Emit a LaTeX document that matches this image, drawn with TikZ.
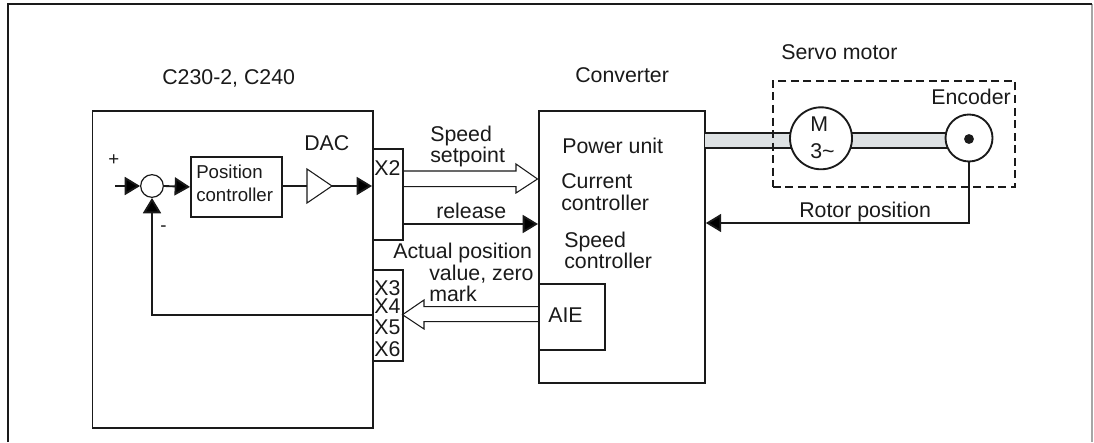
\documentclass[tikz,border=0pt]{standalone}
\usepackage{fontspec}
\setmainfont{Liberation Sans}
\usetikzlibrary{arrows.meta,calc}
\definecolor{ink}{HTML}{1A1A1A}
\definecolor{band}{HTML}{DDE1E3}
\tikzset{
 x=0.75pt,y=-0.75pt,
 line/.style={draw=ink,line width=1.4pt},
 thin line/.style={draw=ink,line width=0.8pt},
 lbl/.style={anchor=base west,inner sep=0pt,text=ink,font=\fontsize{16}{18}\selectfont},
 small lbl/.style={anchor=base west,inner sep=0pt,text=ink,font=\fontsize{14}{16}\selectfont},
 solid tip/.style={-{Triangle[length=11.5pt,width=13.5pt,fill=black]}},
 hollow/.style={draw=ink,line width=0.8pt,fill=white,line join=miter},
}
\newcommand{\pxbox}[5]{\node[draw=ink,line width=1.4pt,inner sep=0pt,rectangle,minimum width=#3*0.75pt-#1*0.75pt,minimum height=#4*0.75pt-#2*0.75pt,anchor=north west] (#5) at (#1,#2) {};}
\begin{document}
\begin{tikzpicture}
\useasboundingbox (0,0) rectangle (1094,442);
\fill[white] (0,0) rectangle (1094,442);
% outer frame
\coordinate (fbl) at (8,442);
\coordinate (ftl) at (8,4);
\coordinate (ftr) at (1092,4);
\coordinate (fbr) at (1092,442);
\draw[draw=black!35,line width=1.2pt] (ftr) -- (fbr);
\draw[draw=ink,line width=1.6pt] (fbl) -- (ftl) -- (ftr);
% hollow arrows
\draw[hollow] (402,171) -- (516,171) -- (516,164) -- (537.5,179) -- (516,193) -- (516,186.7) -- (402,186.7);
\draw[hollow] (538,306.7) -- (424,306.7) -- (424,300) -- (402.5,314.7) -- (424,329) -- (424,321.7) -- (538,321.7);
% boxes
\pxbox{91.5}{110}{372}{427}{ctrl}
\pxbox{372}{148}{402}{239}{xtwo}
\pxbox{372}{269}{402}{360}{xthree}
\pxbox{190}{156}{281}{216}{pos}
\pxbox{538}{110.5}{704}{382}{conv}
\pxbox{538}{283}{604}{349}{aie}
% summing junction
\node[draw=ink,line width=0.9pt,circle,inner sep=0pt,minimum size=17pt] (sum) at (152,186) {};
\coordinate (in) at (115,186);
\draw[line,solid tip] (in) -- (sum.west);
\draw[line,solid tip] (sum.east) -- (pos.west);
% DAC triangle
\coordinate (ta) at (307,169);
\coordinate (tb) at (307,203);
\coordinate (tc) at (332,186);
\draw[thin line] (ta) -- (tb) -- (tc) -- cycle;
\coordinate (dacin) at (307,186);
\draw[line] (pos.east |- dacin) -- (dacin);
\draw[line,solid tip] (tc) -- (tc -| xtwo.west);
% feedback
\coordinate (fb) at (372,314.7);
\coordinate (fbc) at (152,314.7);
\draw[line,solid tip] (fb) -- (fbc) -- (sum.south);
% release
\coordinate (rel) at (402,224);
\draw[line,solid tip] (rel) -- (rel -| conv.west);
% motor
\path[fill=band] (704.7,133) rectangle (795,148);
\path[fill=band] (848,133) rectangle (950,148);
\draw[thin line] (704.7,133) -- (795,133) (704.7,148) -- (795,148);
\draw[thin line] (848,133) -- (950,133) (848,148) -- (950,148);
\node[draw=ink,line width=1.4pt,circle,inner sep=0pt,minimum size=46.5pt,fill=white] (motor) at (821,138.3) {};
\node[draw=ink,line width=1.4pt,circle,inner sep=0pt,minimum size=35.25pt,fill=white] (enc) at (969,138) {};
\fill[ink] (969,139) circle (3.7pt);
\node[draw=ink,line width=1.3pt,dash pattern=on 6pt off 3.4pt,inner sep=0pt,minimum width=181.5pt,minimum height=79.5pt,anchor=north west] (servo) at (772,80) {};
% rotor
\coordinate (rot) at (969,223);
\draw[line,solid tip] (enc.south) -- (rot) -- (rot -| conv.east);
% labels
\node[lbl] (t1) at (162,85) {C230-2, C240};
\node[lbl] (t2) at (304,151) {DAC};
\node[small lbl] (t3) at (196,178) {Position};
\node[small lbl] (t4) at (196,201) {controller};
\node[small lbl] (t5) at (108,166) {+};
\node[small lbl] (t6) at (160,231) {-};
\node[lbl] (t7) at (374,175) {X2};
\node[lbl] (t8) at (374,295) {X3};
\node[lbl] (t9) at (374,313) {X4};
\node[lbl] (t10) at (374,334) {X5};
\node[lbl] (t11) at (374,356) {X6};
\node[lbl] (t12) at (430,142) {Speed};
\node[lbl] (t13) at (430,162) {setpoint};
\node[lbl] (t14) at (436,218) {release};
\node[lbl] (t15) at (393,258) {Actual position};
\node[lbl] (t16) at (429,280) {value, zero};
\node[lbl] (t17) at (429,301) {mark};
\node[lbl] (t18) at (575,83) {Converter};
\node[lbl] (t19) at (562,153) {Power unit};
\node[lbl] (t20) at (561,188) {Current};
\node[lbl] (t21) at (561,210) {controller};
\node[lbl] (t22) at (564,247) {Speed};
\node[lbl] (t23) at (564,268) {controller};
\node[lbl] (t24) at (548,322) {AIE};
\node[lbl] (t25) at (781,60) {Servo motor};
\node[lbl] (t26) at (931,105) {Encoder};
\node[lbl] (t27) at (799,217) {Rotor position};
\node[lbl] (t28) at (810,132) {M};
\node[lbl] (t29) at (810,158) {3\char`\~};
\end{tikzpicture}
\end{document}
